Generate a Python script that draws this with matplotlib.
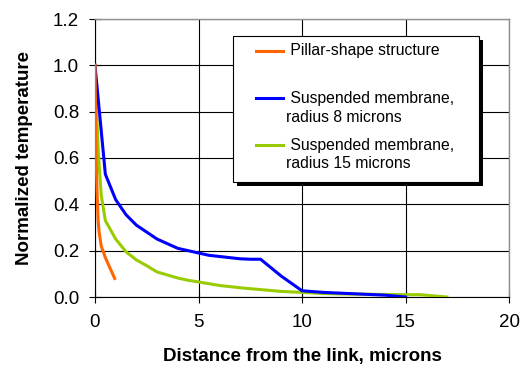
import matplotlib
matplotlib.use("Agg")
import matplotlib.pyplot as plt
from matplotlib.patches import Rectangle
from matplotlib.lines import Line2D

plt.rcParams['font.family'] = ['Liberation Sans', 'DejaVu Sans']

# Data
pillar_x = [0, 0.05, 0.1, 0.15, 0.2, 0.3, 0.4, 0.5, 0.6, 0.7, 0.8, 0.9, 0.95]
pillar_y = [1.0, 0.62, 0.45, 0.33, 0.28, 0.22, 0.195, 0.17, 0.15, 0.13, 0.11, 0.09, 0.08]

r8_x = [0, 0.5, 1, 1.5, 2, 2.5, 3, 3.5, 4, 4.5, 5, 5.5, 6, 6.5, 7, 7.5, 8, 9, 10, 11, 12, 13, 14, 15]
r8_y = [1.0, 0.53, 0.42, 0.355, 0.31, 0.28, 0.25, 0.23, 0.21, 0.20, 0.19, 0.18, 0.175, 0.17,
        0.165, 0.163, 0.163, 0.09, 0.027, 0.02, 0.016, 0.012, 0.008, 0.0]

r15_x = [0, 0.1, 0.16, 0.2, 0.3, 0.5, 1, 1.5, 2, 2.5, 3, 3.5, 4, 4.5, 5, 6, 7, 8, 9, 10,
         11, 12, 13, 14, 15, 15.7, 17]
r15_y = [1.0, 0.75, 0.63, 0.57, 0.44, 0.33, 0.25, 0.195, 0.16, 0.135, 0.108, 0.095, 0.082,
         0.072, 0.065, 0.05, 0.04, 0.032, 0.024, 0.02, 0.015, 0.013, 0.012, 0.011, 0.01, 0.01, 0.0]

labels = [" Pillar-shape structure",
          " Suspended membrane,\nradius 8 microns",
          " Suspended membrane,\nradius 15 microns"]
colors = ["#ff6600", "#0000ff", "#99cc00"]

xticks = [0, 5, 10, 15, 20]
yticks = [0.0, 0.2, 0.4, 0.6, 0.8, 1.0, 1.2]

fig = plt.figure(figsize=(5.2, 3.71), dpi=100)
ax = fig.add_axes([95/520, 1-297/371, (509-95)/520, (297-19)/371])

ax.plot(r15_x, r15_y, color=colors[2], lw=2.2, zorder=3)
ax.plot(r8_x, r8_y, color=colors[1], lw=2.2, zorder=4)
ax.plot(pillar_x, pillar_y, color=colors[0], lw=2.2, zorder=5)

ax.set_xlim(0, 20)
ax.set_ylim(0, 1.2)
ax.set_xticks(xticks)
ax.set_yticks(yticks)
ax.set_xticklabels([str(t) for t in xticks])
ax.set_yticklabels([f"{t:.1f}" for t in yticks])
ax.tick_params(direction='inout', length=9, width=0.8, labelsize=13.5)
ax.tick_params(axis='y', pad=7)
ax.tick_params(axis='x', pad=8)
ax.grid(True, color='black', lw=0.8)
ax.set_axisbelow(True)
for s in ['top', 'right']:
    ax.spines[s].set_color('#909090')
    ax.spines[s].set_linewidth(1.0)
for s in ['left', 'bottom']:
    ax.spines[s].set_color('black')
    ax.spines[s].set_linewidth(0.8)

ax.set_xlabel("Distance from the link, microns", fontsize=13.5, fontweight='bold', labelpad=12)
ax.set_ylabel("Normalized temperature", fontsize=13.5, fontweight='bold', labelpad=14)

# Manual legend (Excel style with shadow)
W, H = 520, 371
def fx(px): return px / W
def fy(py): return 1 - py / H

x0, x1, y0, y1 = 233, 479, 36, 182
fig.patches.append(Rectangle((fx(x0+4), fy(y1+4)), fx(x1-x0), (y1-y0)/H,
                             transform=fig.transFigure, facecolor='black',
                             edgecolor='none', zorder=10))
fig.patches.append(Rectangle((fx(x0), fy(y1)), fx(x1-x0), (y1-y0)/H,
                             transform=fig.transFigure, facecolor='white',
                             edgecolor='black', lw=0.8, zorder=11))
handle_y = [51, 98, 145]
for c, lab, hy in zip(colors, labels, handle_y):
    fig.add_artist(Line2D([fx(256), fx(283)], [fy(hy), fy(hy)], color=c, lw=2.2,
                          transform=fig.transFigure, zorder=12))
    lines = lab.split("\n")
    for i, ln in enumerate(lines):
        fig.text(fx(286), fy(hy + i*19), ln, fontsize=11.3, va='center', ha='left',
                 zorder=13)

fig.savefig("out.png", dpi=100)
